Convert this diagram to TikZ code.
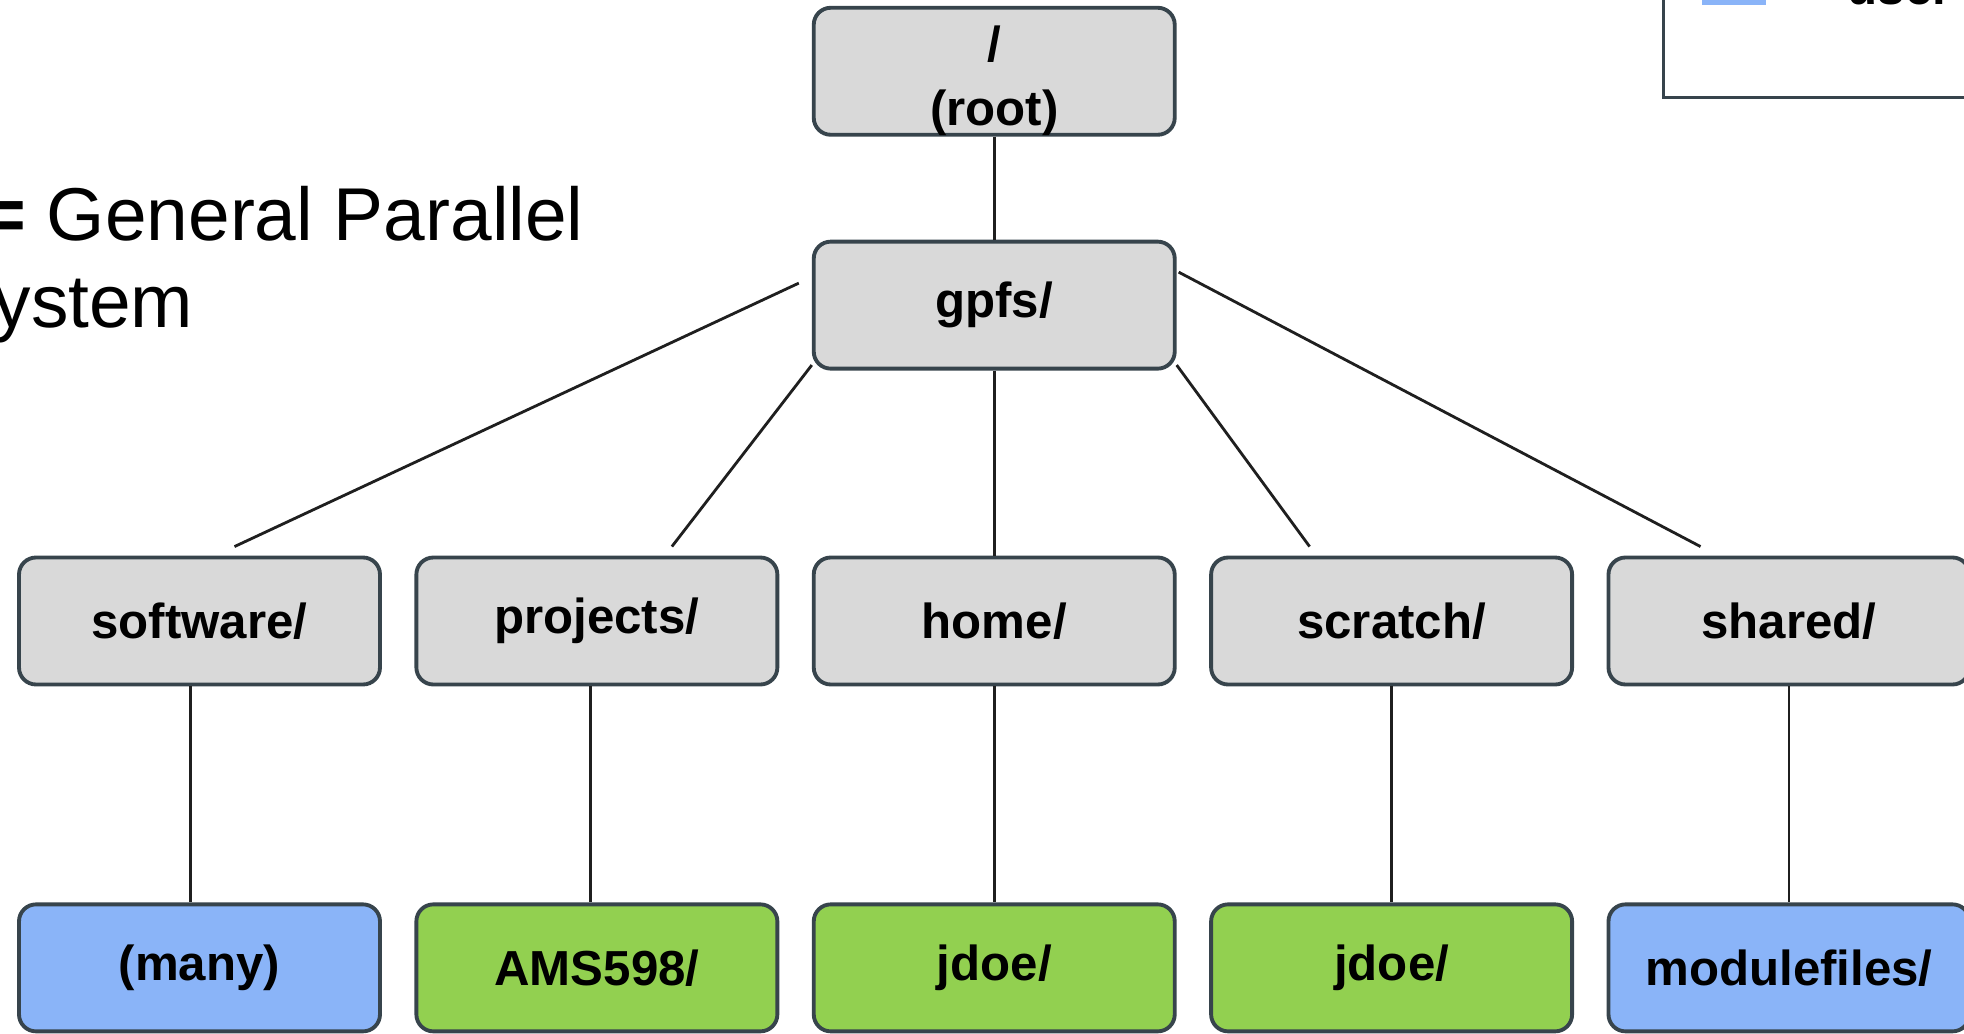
\documentclass[tikz,border=0pt]{standalone}
\usepackage{fontspec}
\setmainfont{Liberation Sans}
\usetikzlibrary{calc, chains, positioning}

\definecolor{boxline}{HTML}{37444C}
\definecolor{dirgray}{HTML}{D9D9D9}
\definecolor{userblue}{HTML}{8AB4F8}
\definecolor{usergreen}{HTML}{92D050}

\begin{document}
\begin{tikzpicture}[font=\fontsize{14}{17}\selectfont\bfseries, node distance=3.25mm,
  dirnode/.style={draw=boxline, line width=1.1pt, rounded corners=1.7mm, fill=dirgray,
    minimum width=36.1mm, minimum height=12.7mm, inner sep=0pt},
  bluedir/.style={dirnode, fill=userblue},
  greendir/.style={dirnode, fill=usergreen},
  conn/.style={draw=black!88, line width=0.8pt},
  bigtext/.style={inner sep=0pt, anchor=base west, font=\fontsize{21.3}{25}\selectfont}]
\useasboundingbox (0,0) rectangle (19.64,-10.34);

% second level
\begin{scope}[start chain]
    \node [dirnode, on chain] (software) at (1.995,-6.21) {software/};
    \node [dirnode, on chain] (projects) {projects/};
    \node [dirnode, on chain] (home) {home/};
    \node [dirnode, on chain] (scratch) {scratch/};
    \node [dirnode, on chain] (shared) {shared/};
\end{scope}

% leaves
\begin{scope}[start chain]
    \node [bluedir, on chain, below=2.16cm of software] (many) {(many)};
    \node [greendir, on chain] (ams) {AMS598/};
    \node [greendir, on chain] (jdoehome) {jdoe/};
    \node [greendir, on chain] (jdoescratch) {jdoe/};
    \node [bluedir, on chain] (modfiles) {modulefiles/};
\end{scope}

\node [dirnode, above=1.85cm of home] (gpfs) {gpfs/};
\node [dirnode, above=1.03cm of gpfs] (root) {\raisebox{-1mm}[\height][\depth]{\begin{tabular}{@{}c@{}}/\\[1.3pt](root)\end{tabular}}};

\draw[conn] (root) -- (gpfs);
\draw[conn] ($(gpfs.west)+(-0.13,0.22)$) -- ($(software.north)+(0.35,0.09)$);
\draw[conn] ($(gpfs.south west)+(0,0.055)$) -- ($(projects.north)+(0.75,0.09)$);
\draw[conn] (gpfs) -- (home);
\draw[conn] ($(gpfs.south east)+(0,0.055)$) -- ($(scratch.north)+(-0.82,0.09)$);
\draw[conn] ($(gpfs.east)+(0.02,0.33)$) -- ($(shared.north)+(-0.885,0.09)$);

\draw[conn] ($(software.south)+(-0.09,0)$) -- ($(many.north)+(-0.09,0)$);
\draw[conn] ($(projects.south)+(-0.065,0)$) -- ($(ams.north)+(-0.065,0)$);
\draw[conn] (home) -- (jdoehome);
\draw[conn] (scratch) -- (jdoescratch);
\draw[conn] (shared) -- (modfiles);

\node[bigtext] (defline) at (-0.183,-2.41) {\textbf{=} General Parallel};
\node[bigtext] (defsys) at (-0.07,-3.28) {ystem};

% legend (cut off)
\draw[draw=boxline, line width=1.1pt] (16.635,-0.975) rectangle (20.5,2.5);
\fill[userblue] (17.02,-0.047) rectangle (17.66,0.5);
\node[inner sep=0pt, anchor=base west] (userkey) at (18.47,-0.045) {user};
\end{tikzpicture}
\end{document}
